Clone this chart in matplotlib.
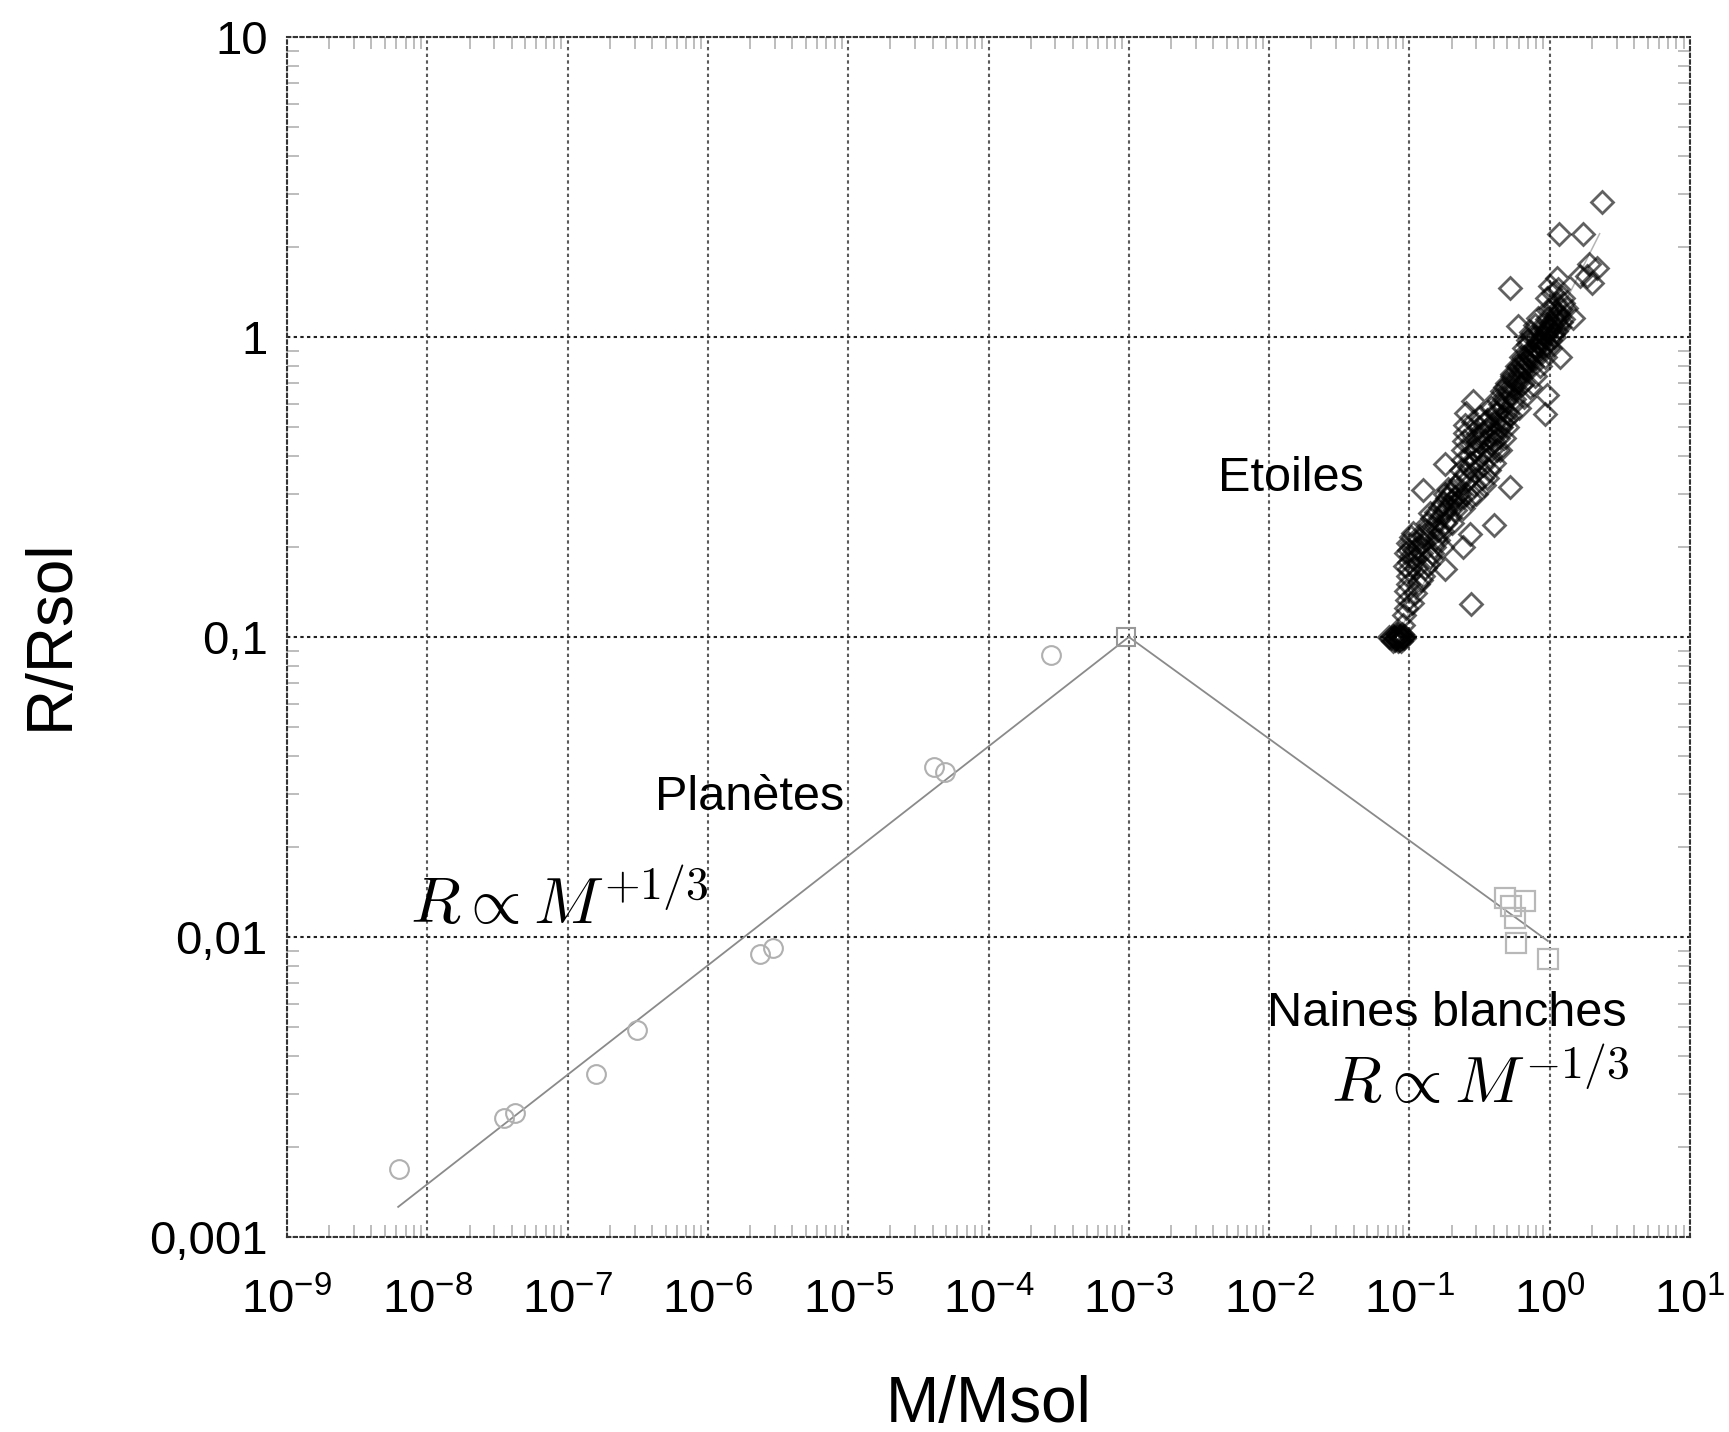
import numpy as np
import matplotlib
matplotlib.use('Agg')
import matplotlib.pyplot as plt
from matplotlib.ticker import FixedLocator, FixedFormatter, LogLocator, NullFormatter

# ---------------- data ----------------
x_ticks = [1e-9, 1e-8, 1e-7, 1e-6, 1e-5, 1e-4, 1e-3, 1e-2, 1e-1, 1e0, 1e1]
x_tick_labels = [r'$\mathregular{10^{-9}}$', r'$\mathregular{10^{-8}}$', r'$\mathregular{10^{-7}}$',
                 r'$\mathregular{10^{-6}}$', r'$\mathregular{10^{-5}}$', r'$\mathregular{10^{-4}}$',
                 r'$\mathregular{10^{-3}}$', r'$\mathregular{10^{-2}}$', r'$\mathregular{10^{-1}}$',
                 r'$\mathregular{10^{0}}$', r'$\mathregular{10^{1}}$']
y_ticks = [1e-3, 1e-2, 1e-1, 1e0, 1e1]
y_tick_labels = ['0,001', '0,01', '0,1', '1', '10']

planet_mass = [6.3e-9, 3.5e-8, 4.2e-8, 1.6e-7, 3.1e-7, 2.36e-6, 2.93e-6, 4.1e-5, 4.9e-5, 2.8e-4]
planet_radius = [1.68e-3, 2.5e-3, 2.6e-3, 3.5e-3, 4.9e-3, 8.8e-3, 9.2e-3, 0.037, 0.0356, 0.0872]

jupiter_mass = [9.5e-4]
jupiter_radius = [0.1]

wd_mass = [0.477, 0.664, 0.527, 0.564, 0.573, 0.966]
wd_radius = [0.0135, 0.0132, 0.0127, 0.0116, 0.00956, 0.00845]

planet_fit_mass = [6.2e-9, 1e-3]
planet_fit_radius = [1.26e-3, 0.1]
wd_fit_mass = [1e-3, 0.97]
wd_fit_radius = [0.1, 0.0097]
star_fit_mass = [0.09, 2.27]
star_fit_radius = [0.11, 2.21]

star_mass = [
    # lower-mass end (dense blob)
    0.080, 0.082, 0.084, 0.086, 0.088, 0.090, 0.083, 0.087, 0.085, 0.089,
    0.072, 0.074, 0.076, 0.078, 0.079, 0.081, 0.091, 0.092, 0.077, 0.083,
    # 0.09 - 0.13
    0.090, 0.092, 0.094, 0.096, 0.095, 0.098, 0.097, 0.100, 0.099, 0.102,
    0.100, 0.104, 0.103, 0.106, 0.108, 0.110, 0.112, 0.115, 0.118, 0.120,
    0.124, 0.128, 0.093, 0.095, 0.097,
    0.110, 0.120, 0.130, 0.140, 0.150, 0.160, 0.170, 0.180, 0.190, 0.210,
    0.220, 0.230, 0.105, 0.115, 0.125, 0.135, 0.145, 0.170, 0.200, 0.240,
    # 0.13 - 0.22
    0.130, 0.135, 0.140, 0.145, 0.150, 0.155, 0.160, 0.165, 0.170, 0.175,
    0.180, 0.185, 0.190, 0.195, 0.200, 0.205, 0.210, 0.215, 0.140, 0.160,
    0.178, 0.152,
    # 0.22 - 0.45
    0.225, 0.230, 0.235, 0.240, 0.240, 0.245, 0.250, 0.250, 0.255, 0.260,
    0.265, 0.270, 0.275, 0.280, 0.285, 0.290, 0.295, 0.300, 0.305, 0.310,
    0.315, 0.320, 0.330, 0.335, 0.340, 0.345, 0.350, 0.360, 0.370, 0.375,
    0.380, 0.390, 0.400, 0.410, 0.420, 0.430, 0.440, 0.450, 0.255,
    0.250, 0.270, 0.290, 0.310, 0.330, 0.350, 0.380, 0.400, 0.420, 0.450,
    0.480, 0.360, 0.400, 0.440, 0.300, 0.340, 0.270, 0.470, 0.520, 0.500,
    # 0.42 - 0.75
    0.420, 0.440, 0.460, 0.470, 0.490, 0.500, 0.520, 0.530, 0.550, 0.560,
    0.580, 0.590, 0.610, 0.620, 0.640, 0.650, 0.670, 0.680, 0.700, 0.710,
    0.730, 0.740, 0.480, 0.540, 0.600, 0.660, 0.450, 0.500, 0.560, 0.620,
    0.380, 0.420, 0.460, 0.500, 0.540, 0.580, 0.620, 0.660, 0.700, 0.740,
    0.780, 0.820, 0.600, 0.660, 0.720, 0.780, 0.850, 0.920, 1.000, 1.080,
    1.160, 1.240, 0.550, 0.650, 0.750, 0.850, 0.950, 1.050, 1.150, 1.250,
    0.900, 0.800,
    # 0.7 - 1.3
    0.760, 0.780, 0.800, 0.820, 0.840, 0.860, 0.880, 0.900, 0.920, 0.940,
    0.960, 0.980, 1.000, 1.020, 1.050, 1.080, 1.100, 1.130, 1.160, 1.200,
    0.850, 0.950, 1.050, 0.800, 0.900, 1.000, 1.100, 1.200, 0.700, 0.750,
    # upper, sparse
    2.34, 1.16, 1.72, 2.17, 2.00, 1.12, 1.64, 0.52, 1.00, 0.97,
    1.46, 0.59, 1.05, 1.10, 1.25, 1.30, 1.15, 0.95, 1.90, 1.85,
    # isolated
    0.283, 0.92, 0.178, 0.124, 0.188, 0.518, 0.40, 0.272, 0.24, 0.178,
    0.275, 0.95, 1.18,
]
star_radius = [
    0.099, 0.100, 0.098, 0.101, 0.099, 0.100, 0.102, 0.097, 0.100, 0.102,
    0.100, 0.099, 0.101, 0.100, 0.098, 0.102, 0.099, 0.101, 0.097, 0.097,
    0.110, 0.118, 0.125, 0.133, 0.142, 0.150, 0.160, 0.168, 0.178, 0.186,
    0.195, 0.205, 0.215, 0.222, 0.195, 0.182, 0.170, 0.200, 0.212, 0.190,
    0.205, 0.218, 0.172, 0.190, 0.205,
    0.140, 0.155, 0.170, 0.185, 0.200, 0.210, 0.225, 0.240, 0.250, 0.265,
    0.280, 0.290, 0.130, 0.150, 0.160, 0.175, 0.190, 0.200, 0.240, 0.270,
    0.228, 0.240, 0.222, 0.250, 0.235, 0.262, 0.245, 0.272, 0.255, 0.280,
    0.265, 0.290, 0.272, 0.300, 0.283, 0.310, 0.292, 0.320, 0.260, 0.228,
    0.300, 0.212,
    0.300, 0.330, 0.360, 0.390, 0.420, 0.450, 0.480, 0.510, 0.300, 0.335,
    0.370, 0.405, 0.440, 0.475, 0.520, 0.320, 0.355, 0.390, 0.430, 0.465,
    0.500, 0.540, 0.340, 0.375, 0.410, 0.450, 0.490, 0.530, 0.360, 0.400,
    0.440, 0.480, 0.520, 0.560, 0.420, 0.460, 0.500, 0.540, 0.560,
    0.350, 0.380, 0.420, 0.450, 0.480, 0.520, 0.420, 0.450, 0.480, 0.500,
    0.530, 0.340, 0.380, 0.420, 0.300, 0.320, 0.290, 0.460, 0.550, 0.500,
    0.560, 0.600, 0.580, 0.630, 0.610, 0.660, 0.640, 0.690, 0.670, 0.720,
    0.700, 0.750, 0.730, 0.780, 0.760, 0.810, 0.790, 0.840, 0.820, 0.870,
    0.850, 0.900, 0.680, 0.740, 0.800, 0.860, 0.520, 0.560, 0.620, 0.690,
    0.580, 0.620, 0.660, 0.700, 0.750, 0.800, 0.860, 0.920, 0.980, 1.040,
    1.100, 1.160, 0.580, 0.630, 0.680, 0.740, 0.800, 0.860, 0.920, 1.000,
    1.080, 1.150, 0.600, 0.700, 0.800, 0.900, 0.950, 1.020, 1.200, 1.300,
    1.100, 1.000,
    0.880, 0.930, 0.910, 0.960, 0.940, 0.990, 0.970, 1.020, 1.000, 1.050,
    1.030, 1.080, 1.060, 1.110, 1.090, 1.150, 1.130, 1.190, 1.170, 1.230,
    1.050, 1.150, 1.250, 0.850, 0.930, 0.980, 1.050, 1.120, 0.950, 1.000,
    2.81, 2.21, 2.21, 1.70, 1.51, 1.57, 1.60, 1.46, 1.48, 1.23,
    1.155, 1.085, 1.40, 1.30, 1.35, 1.25, 1.45, 1.35, 1.75, 1.60,
    0.61, 0.555, 0.377, 0.31, 0.312, 0.316, 0.237, 0.22, 0.199, 0.168,
    0.129, 0.64, 0.86,
]

# ---------------- style ----------------
plt.rcParams['font.family'] = ['Liberation Sans', 'DejaVu Sans']
plt.rcParams['mathtext.fontset'] = 'custom'
plt.rcParams['mathtext.rm'] = 'Liberation Sans'
plt.rcParams['mathtext.it'] = 'Liberation Sans:italic'
plt.rcParams['mathtext.bf'] = 'Liberation Sans:bold'

W, H = 1729, 1432
fig = plt.figure(figsize=(W / 100, H / 100), dpi=100)
L, R, T, B = 287, 1690, 37, 1237
ax = fig.add_axes([L / W, 1 - B / H, (R - L) / W, (B - T) / H])
ax.set_xscale('log')
ax.set_yscale('log')
ax.set_xlim(1e-9, 1e1)
ax.set_ylim(1e-3, 1e1)

dots = (0, (1.6, 1.6))

# fits
ax.plot(planet_fit_mass, planet_fit_radius, color='#8a8a8a', lw=1.3, zorder=2)
ax.plot(wd_fit_mass, wd_fit_radius, color='#8a8a8a', lw=1.3, zorder=2)
ax.plot(star_fit_mass, star_fit_radius, color='#b5b5b5', lw=1.1, zorder=2)

# points
ax.plot(planet_mass, planet_radius, 'o', ms=13.5, mfc='none', mec='#b0b0b0', mew=1.5, zorder=3)
ax.plot(jupiter_mass, jupiter_radius, 's', ms=13, mfc='none', mec='#999999', mew=1.5, zorder=3)
ax.plot(wd_mass, wd_radius, 's', ms=15, mfc='none', mec='#b8b8b8', mew=1.6, zorder=3)
ax.plot(star_mass, star_radius, 'D', ms=11, mfc='none', mec='#000000', mew=2.0, alpha=0.62, zorder=4)

# grid & ticks
ax.xaxis.set_major_locator(FixedLocator(x_ticks))
ax.xaxis.set_major_formatter(FixedFormatter(x_tick_labels))
ax.yaxis.set_major_locator(FixedLocator(y_ticks))
ax.yaxis.set_major_formatter(FixedFormatter(y_tick_labels))
ax.xaxis.set_minor_locator(LogLocator(base=10, subs=np.arange(2, 10), numticks=200))
ax.yaxis.set_minor_locator(LogLocator(base=10, subs=np.arange(2, 10), numticks=200))
ax.xaxis.set_minor_formatter(NullFormatter())
ax.yaxis.set_minor_formatter(NullFormatter())

ax.xaxis.grid(True, which='major', color='#5a5a5a', lw=1.5, ls=dots, zorder=1)
ax.yaxis.grid(True, which='major', color='#222222', lw=1.5, ls=dots, zorder=1)
ax.set_axisbelow(True)

ax.tick_params(which='minor', direction='in', length=8.5, width=1.4, color='#bdbdbd',
               top=True, right=True, bottom=True, left=True)
ax.tick_params(which='major', length=0, labelsize=34)
ax.tick_params(axis='x', which='major', pad=30)
ax.tick_params(axis='y', which='major', pad=14)

for s in ax.spines.values():
    s.set_linestyle(dots)
    s.set_linewidth(1.5)
    s.set_color('#333333')

# axis labels
ax.set_xlabel('M/Msol', fontsize=46)
ax.xaxis.label.set_va('baseline')
ax.xaxis.set_label_coords(0.5, -(1422 - B) / (B - T))
ax.set_ylabel('R/Rsol', fontsize=46)
ax.yaxis.label.set_va('baseline')
ax.yaxis.set_label_coords(-(L - 68) / (R - L), (B - 634) / (B - T))

# annotations
ax.text(0.7156, 0.6217, 'Etoiles', transform=ax.transAxes, fontsize=35, ha='center', va='baseline')
ax.text(0.330, 0.3558, 'Planètes', transform=ax.transAxes, fontsize=35, ha='center', va='baseline')
ax.text(0.8268, 0.176, 'Naines blanches', transform=ax.transAxes, fontsize=35, ha='center', va='baseline')
ax.text(0.0877, 0.2608, r'$R \propto M^{+1/3}$', transform=ax.transAxes, fontsize=47,
        ha='left', va='baseline', math_fontfamily='cm')
ax.text(0.9565, 0.1117, r'$R \propto M^{-1/3}$', transform=ax.transAxes, fontsize=47,
        ha='right', va='baseline', math_fontfamily='cm')

fig.savefig('out.png', dpi=100)
